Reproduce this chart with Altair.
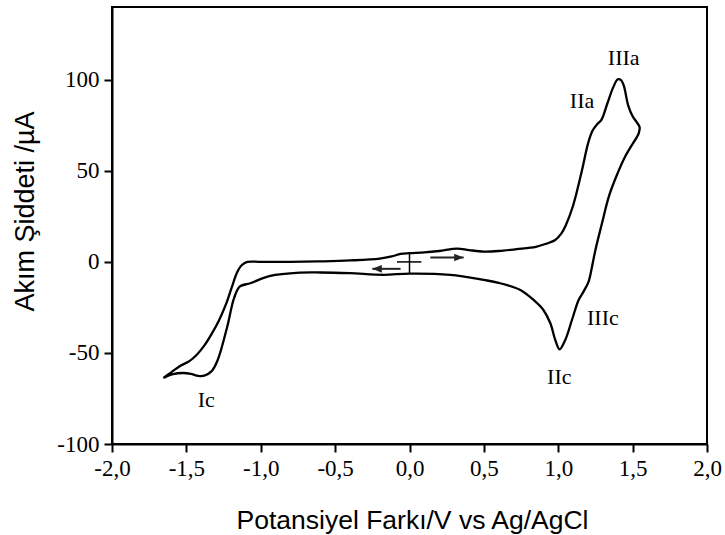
import altair as alt
import pandas as pd

# Cyclic voltammogram trace (ordered around the loop)
cv_x = [-1.655, -1.60, -1.54, -1.48, -1.43, -1.38, -1.33, -1.28, -1.235, -1.195, -1.16, -1.13, -1.09,
        -1.0, -0.8, -0.6, -0.4, -0.2, -0.12, -0.06, 0.0, 0.1, 0.2, 0.32, 0.4, 0.5, 0.6, 0.72, 0.85,
        0.92, 0.98, 1.02, 1.05, 1.10, 1.16, 1.20, 1.23, 1.26, 1.29, 1.33, 1.37, 1.40, 1.42, 1.44,
        1.47, 1.50, 1.547,
        1.54, 1.53, 1.45, 1.39, 1.34, 1.294, 1.25, 1.227, 1.204, 1.17, 1.137, 1.092, 1.047, 1.009,
        0.98, 0.947, 0.90, 0.834, 0.745, 0.6, 0.5, 0.274, 0.0, -0.174, -0.4, -0.6, -0.734, -0.936,
        -1.07, -1.14, -1.18, -1.225, -1.29, -1.33, -1.38, -1.42, -1.47, -1.52, -1.59, -1.655]
cv_y = [-63.7, -60.5, -57.0, -54.5, -51.0, -46.0, -39.5, -32.0, -23.5, -14.0, -6.0, -2.0, 0.0,
        0.0, 0.0, 0.3, 0.8, 1.8, 3.0, 4.4, 4.8, 5.2, 6.0, 7.3, 6.5, 5.7, 6.0, 7.0, 8.3,
        10.0, 12.0, 15.5, 20.0, 31.0, 50.5, 65.0, 72.0, 75.5, 78.0, 87.0, 96.0, 100.3, 100.0, 97.0,
        86.0, 80.0, 74.0,
        70.5, 68.8, 57.9, 46.9, 35.9, 21.2, 6.6, -2.6, -10.8, -16.3, -20.9, -31.9, -42.9, -48.0,
        -42.9, -33.7, -26.4, -20.9, -15.4, -11.5, -9.9, -7.1, -6.4, -7.1, -6.2, -5.8, -5.9, -7.7,
        -11.7, -13.5, -20.0, -35.5, -54.0, -60.0, -62.5, -62.6, -61.5, -61.0, -61.6, -63.7]

# Peak labels
lab_text = ["IIIa", "IIa", "IIIc", "IIc", "Ic"]
lab_x = [1.44, 1.16, 1.30, 1.007, -1.366]
lab_y = [112, 88.5, -31, -63, -76]

# Scan-direction arrows
arr_x1 = [-0.06, 0.14]
arr_x2 = [-0.25, 0.364]
arr_y = [-3.8, 2.4]
arr_dir = ["left", "right"]

# Start-point cross
cross_x1 = [-0.084, 0.0]
cross_x2 = [0.08, 0.0]
cross_y1 = [0.0, 4.8]
cross_y2 = [0.0, -6.2]

x_ticks = [-2.0, -1.5, -1.0, -0.5, 0.0, 0.5, 1.0, 1.5, 2.0]
y_ticks = [-100, -50, 0, 50, 100]

cv = pd.DataFrame({"x": cv_x, "y": cv_y, "o": list(range(len(cv_x)))})
labs = pd.DataFrame({"t": lab_text, "x": lab_x, "y": lab_y})
arrows = pd.DataFrame({"x1": arr_x1, "x2": arr_x2, "y": arr_y, "d": arr_dir})
cross = pd.DataFrame({"x1": cross_x1, "x2": cross_x2, "y1": cross_y1, "y2": cross_y2})

xs = alt.Scale(domain=[-2, 2], nice=False, zero=False)
ys = alt.Scale(domain=[-100, 140], nice=False, zero=False)

x_axis = alt.Axis(
    values=x_ticks,
    labelExpr="(datum.value < 0 ? '-' : '') + replace(format(abs(datum.value), '.1f'), '.', ',')",
    title="Potansiyel Farkı/V vs Ag/AgCl",
    titleFontSize=26.5, titleX=300, titleY=84, titleBaseline="alphabetic",
    labelPadding=5, labelFlush=False, labelOverlap=False,
)
y_axis = alt.Axis(
    values=y_ticks,
    labelExpr="(datum.value < 0 ? '-' : '') + format(abs(datum.value), 'd')",
    title="Akım Şiddeti /µA",
    titleFontSize=27, titleX=-79, titleY=204, titleAngle=-90, titleBaseline="alphabetic",
    titleAlign="center", labelPadding=5, labelFlush=False, labelOverlap=False,
)

line = alt.Chart(cv).mark_line(color="black", strokeWidth=2.3, interpolate="catmull-rom").encode(
    x=alt.X("x:Q", scale=xs, axis=x_axis),
    y=alt.Y("y:Q", scale=ys, axis=y_axis),
    order="o:Q",
)

text = alt.Chart(labs).mark_text(font="Liberation Serif", fontSize=22, color="black",
                                 baseline="middle", align="center").encode(
    x=alt.X("x:Q", scale=xs), y=alt.Y("y:Q", scale=ys), text="t:N")

arrow_lines = alt.Chart(arrows).mark_rule(color="#222222", strokeWidth=2).encode(
    x=alt.X("x1:Q", scale=xs), x2="x2:Q", y=alt.Y("y:Q", scale=ys))

head_path_right = "M 0 0 L -2 -0.8 L -2 0.8 Z"
head_path_left = "M 0 0 L 2 -0.8 L 2 0.8 Z"
heads = alt.Chart(arrows).mark_point(filled=True, color="#222222", opacity=1, size=90, strokeWidth=0).encode(
    x=alt.X("x2:Q", scale=xs), y=alt.Y("y:Q", scale=ys),
    shape=alt.Shape("d:N", scale=alt.Scale(domain=["left", "right"], range=[head_path_left, head_path_right]),
                    legend=None),
)

cross_lines = alt.Chart(cross).mark_rule(color="black", strokeWidth=1.5).encode(
    x=alt.X("x1:Q", scale=xs), x2="x2:Q", y=alt.Y("y1:Q", scale=ys), y2="y2:Q")

chart = alt.layer(line, cross_lines, arrow_lines, heads, text).properties(
    width=595, height=437,
    padding={"left": 112, "top": 7, "right": 18, "bottom": 91},
    autosize=alt.AutoSizeParams(type="none"),
).configure_view(
    stroke="black", strokeWidth=2
).configure_axis(
    grid=False, domainColor="black", domainWidth=2, tickColor="black", tickWidth=2, tickSize=8,
    labelFont="Liberation Serif", labelFontSize=23, labelColor="black",
    titleFont="Liberation Sans", titleFontWeight="normal", titleColor="black",
)

chart.save("out.html", embed_options={"renderer": "svg", "actions": False})
